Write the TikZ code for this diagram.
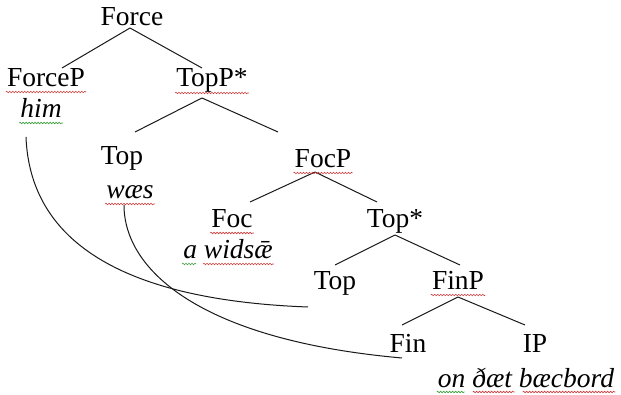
\documentclass[tikz,border=0pt]{standalone}
\usepackage{fontspec}
\setmainfont{Liberation Serif}
\usetikzlibrary{decorations.pathmorphing}
\definecolor{sqred}{RGB}{210,60,60}
\definecolor{sqgreen}{RGB}{60,160,60}
\begin{document}
\begin{tikzpicture}[x=1pt,y=-1pt,
  lbl/.style={anchor=base,inner sep=1pt,font=\fontsize{27.5}{32}\selectfont},
  it/.style={lbl,font=\fontsize{27.5}{32}\selectfont\itshape},
  edge/.style={line width=1pt,draw=black!90},
  squig/.style={decorate,decoration={snake,segment length=3pt,amplitude=0.8pt},line width=0.6pt},
  sqr/.style={squig,draw=sqred},
  sqg/.style={squig,draw=sqgreen}]
\useasboundingbox[fill=white] (0,0) rectangle (621,395);
% nodes
\node[lbl] (force) at (132,26) {Force};
\node[lbl] (forcep) at (46,87) {ForceP};
\node[it] (him) at (41,118) {him};
\node[lbl] (topp) at (212,87) {TopP*};
\node[lbl] (top1) at (122,165) {Top};
\node[it] (waes) at (130,199) {wæs};
\node[lbl] (focp) at (323,168) {FocP};
\node[lbl] (foc) at (232,228) {Foc};
\node[it] (widsae) at (228,259) {a widsǣ};
\node[lbl] (topstar) at (395,228) {Top*};
\node[lbl] (top2) at (335,290) {Top};
\node[lbl] (finp) at (458,290) {FinP};
\node[lbl] (fin) at (408,352) {Fin};
\node[lbl] (ip) at (535,352) {IP};
\node[it] (ipwords) at (526,387) {on ðæt bæcbord};
% edges
\draw[edge] ([xshift=-2pt,yshift=-2pt]force.base) -- ([xshift=16pt,yshift=19pt]forcep.base);
\draw[edge] ([xshift=-2pt,yshift=-2pt]force.base) -- ([xshift=-10pt,yshift=19pt]topp.base);
\draw[edge] ([xshift=-10pt,yshift=-11pt]topp.base) -- ([xshift=13pt,yshift=33pt]top1.base);
\draw[edge] ([xshift=-10pt,yshift=-11pt]topp.base) -- ([xshift=-45pt,yshift=36pt]focp.base);
\draw[edge] ([xshift=-8pt,yshift=-4pt]focp.base) -- ([xshift=18pt,yshift=26pt]foc.base);
\draw[edge] ([xshift=-8pt,yshift=-4pt]focp.base) -- ([xshift=-18pt,yshift=26pt]topstar.base);
\draw[edge] ([yshift=-7pt]topstar.base) -- ([yshift=25pt]top2.base);
\draw[edge] ([yshift=-7pt]topstar.base) -- ([xshift=2pt,yshift=25pt]finp.base);
\draw[edge] ([yshift=-7pt]finp.base) -- ([xshift=-6pt,yshift=27pt]fin.base);
\draw[edge] ([yshift=-7pt]finp.base) -- ([xshift=-10pt,yshift=27pt]ip.base);
% movement curves
\draw[edge] ([xshift=-15pt,yshift=-19pt]him.base) .. controls +(4,103) and +(-188,-7) .. ([xshift=-27pt,yshift=-17pt]top2.base);
\draw[edge] ([xshift=-6pt,yshift=-6pt]waes.base) .. controls +(0,65) and +(-202,-18) .. ([xshift=-6pt,yshift=-6pt]fin.base);
% spell-check squiggles
\draw[sqr] ([yshift=-5pt]forcep.base west) -- ([yshift=-5pt]forcep.base east);
\draw[sqr] ([yshift=-6pt]topp.base west) -- ([yshift=-6pt]topp.base east);
\draw[sqr] ([yshift=-5pt]focp.base west) -- ([yshift=-5pt]focp.base east);
\draw[sqr] ([yshift=-5pt]foc.base west) -- ([yshift=-5pt]foc.base east);
\draw[sqr] ([yshift=-5pt]finp.base west) -- ([yshift=-5pt]finp.base east);
\draw[sqg] ([yshift=-5pt]him.base west) -- ([yshift=-5pt]him.base east);
\draw[sqr] ([yshift=-5pt]waes.base west) -- ([yshift=-5pt]waes.base east);
\draw[sqg] ([yshift=-5pt]widsae.base west) -- ([xshift=14pt,yshift=-5pt]widsae.base west);
\draw[sqr] ([xshift=21pt,yshift=-5pt]widsae.base west) -- ([yshift=-5pt]widsae.base east);
\draw[sqg] ([yshift=-5pt]ipwords.base west) -- ([xshift=28pt,yshift=-5pt]ipwords.base west);
\draw[sqr] ([xshift=36pt,yshift=-5pt]ipwords.base west) -- ([xshift=78pt,yshift=-5pt]ipwords.base west);
\draw[sqr] ([xshift=86pt,yshift=-5pt]ipwords.base west) -- ([yshift=-5pt]ipwords.base east);
\end{tikzpicture}
\end{document}
